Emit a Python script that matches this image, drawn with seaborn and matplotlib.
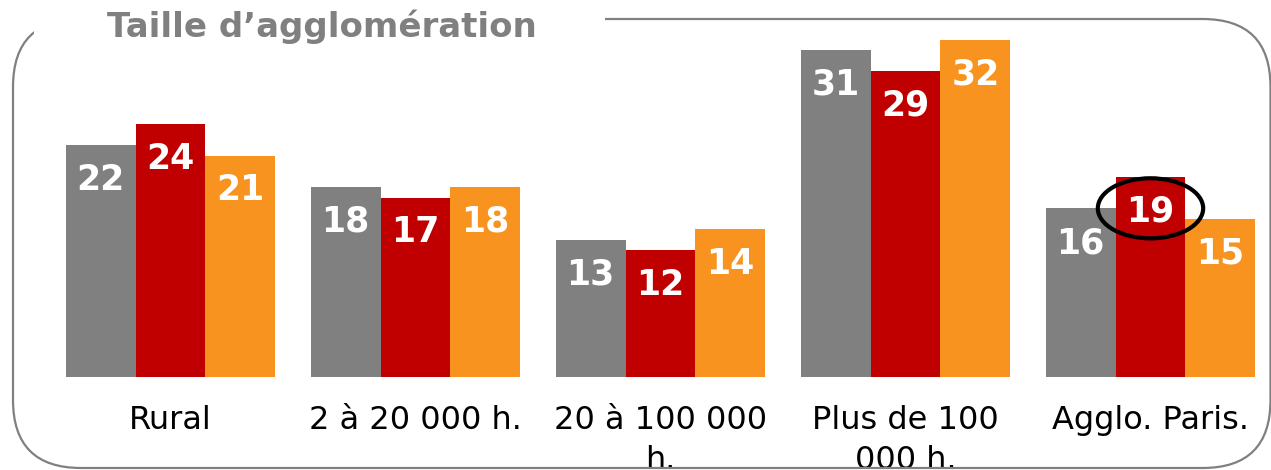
import pandas as pd
import numpy as np
import matplotlib
matplotlib.use("Agg")
import matplotlib.pyplot as plt
import seaborn as sns
from matplotlib.patches import FancyBboxPatch, Rectangle, Ellipse

## Data
categories = ["Rural", "2 à 20 000 h.", "20 à 100 000 h.", "Plus de 100 000 h.", "Agglo. Paris."]
tick_labels = ["Rural", "2 à 20 000 h.", "20 à 100 000\nh.", "Plus de 100\n000 h.", "Agglo. Paris."]
series = ["Série 1", "Série 2", "Série 3"]
serie_1 = [22, 18, 13, 31, 16]
serie_2 = [24, 17, 12, 29, 19]
serie_3 = [21, 18, 14, 32, 15]
colors = ["#808080", "#C00000", "#F7931E"]
title = "Taille d\u2019agglomération"


def long_table():
    """
    Builds the long format table seaborn wants
    """
    rows = []
    for name, vals in zip(series, [serie_1, serie_2, serie_3]):
        for c, v in zip(categories, vals):
            rows.append({"cat": c, "serie": name, "val": v})
    return pd.DataFrame(rows)


def main():
    sns.set_style("white")
    plt.rcParams['font.family'] = ['DejaVu Sans']

    df = long_table()
    fig = plt.figure(figsize=(12.71, 4.70), dpi=100)
    ax = fig.add_axes([48 / 1271, 93 / 470, 1225 / 1271, 369 / 470])

    sns.barplot(data=df, x="cat", y="val", hue="serie", order=categories,
                hue_order=series, palette=colors, saturation=1, width=0.857,
                gap=0, legend=False, ax=ax, edgecolor="none", linewidth=0)

    ax.set_xlim(-0.5, 4.5)
    ax.set_ylim(0, 35)
    ax.set_xlabel("")
    ax.set_ylabel("")
    ax.set_yticks([])
    ax.set_xticks(range(len(categories)))
    ax.set_xticklabels(tick_labels, linespacing=1.4)
    ax.tick_params(axis="x", length=0, pad=20, labelsize=23, labelcolor="#000000")
    for s in ax.spines.values():
        s.set_visible(False)
    ax.patch.set_alpha(0)

    # values inside the bars
    for cont in ax.containers:
        for bar in cont:
            h = bar.get_height()
            ax.annotate(f"{h:.0f}", (bar.get_x() + bar.get_width() / 2, h),
                        xytext=(0, -25), textcoords="offset points",
                        ha="center", va="center", color="white",
                        fontsize=25, fontweight="bold")

    # circle around the Paris value
    bar = ax.containers[1][4]
    ax.add_patch(Ellipse((bar.get_x() + bar.get_width() / 2, bar.get_height() - 3.0),
                         0.43, 5.7, fill=False, edgecolor="black", lw=3, zorder=5,
                         clip_on=False))

    # rounded frame with the title breaking it
    frame = FancyBboxPatch((0.13, 0.02), 12.575, 4.49,
                           boxstyle="round,pad=0,rounding_size=0.68",
                           transform=fig.dpi_scale_trans, fill=False,
                           edgecolor="#808080", lw=1.6, zorder=1)
    fig.patches.append(frame)
    cover = Rectangle((0.34, 4.29), 5.71, 0.5, transform=fig.dpi_scale_trans,
                      facecolor="white", edgecolor="none", zorder=1.5)
    fig.patches.append(cover)
    fig.text(107 / 1271, 433 / 470, title, ha="left", va="baseline",
             fontsize=24.5, fontweight="bold", color="#808080", zorder=2)

    fig.savefig("out.png", dpi=100)


main()
